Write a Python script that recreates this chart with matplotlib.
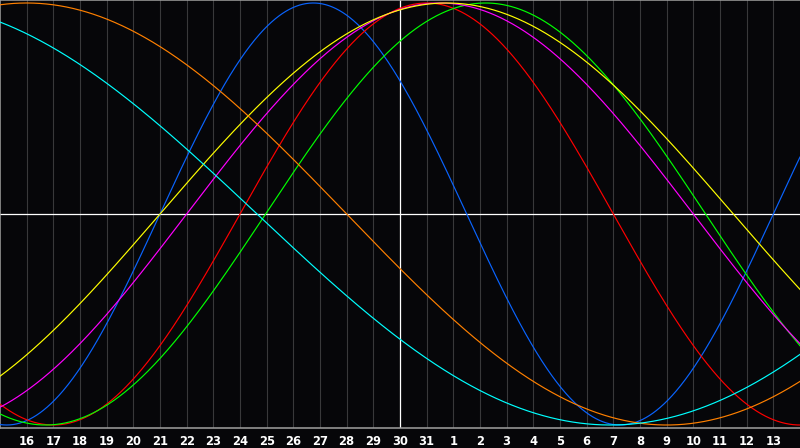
import numpy as np
import matplotlib
matplotlib.use("Agg")
import matplotlib.pyplot as plt

# day labels under the grid lines (index 1..29), today = index 15
day_labels = [str(d) for d in list(range(16, 32)) + list(range(1, 14))]
today_index = 15
n_days = 30

# cycles: name, length in days, day index where the curve rises through zero
cycle_names = ["physical", "emotional", "intellectual", "intuitive",
               "aesthetic", "awareness", "spiritual"]
cycle_periods = [23, 28, 33, 38, 43, 48, 53]
cycle_rise = [6.0, 9.0, 9.96, 7.0, 6.0, -11.0, -16.86]
cycle_colors = ["#0a64ff", "#ff0000", "#00ff00", "#ff00ff",
                "#ffff00", "#ff8000", "#00ffff"]

bg = "#060609"
fig = plt.figure(figsize=(8, 4.48), dpi=100, facecolor=bg)
ax = fig.add_axes([0, 20 / 448, 1, 428 / 448])
ax.set_facecolor(bg)

for k in range(1, n_days):
    if k != today_index:
        ax.axvline(k, color="#38383a", lw=0.8, zorder=1)
ax.axvline(today_index, color="white", lw=0.9, zorder=2)
ax.axhline(0, color="white", lw=0.9, zorder=2)

t = np.linspace(0, n_days, 1201)
for name, p, r, c in zip(cycle_names, cycle_periods, cycle_rise, cycle_colors):
    ax.plot(t, np.sin(2 * np.pi * (t - r) / p), color=c, lw=0.85, zorder=3, label=name)

ax.set_xlim(0, n_days)
ax.set_ylim(-1.0142, 1.0142)
ax.set_xticks(range(1, n_days))
ax.set_xticklabels(day_labels)
ax.tick_params(axis="x", length=0, pad=5, colors="white", labelsize=8.3)
for lab in ax.get_xticklabels():
    lab.set_fontweight("bold")
ax.set_yticks([])
for side in ["top", "left", "bottom"]:
    ax.spines[side].set_color("#a0a0a0")
    ax.spines[side].set_linewidth(1.1)
ax.spines["right"].set_visible(False)

fig.savefig("out.png", dpi=100, facecolor=bg)
